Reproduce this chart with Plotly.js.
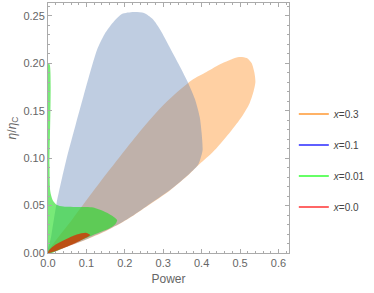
<!DOCTYPE html>
<html><head><meta charset="utf-8">
<script src="https://cdn.plot.ly/plotly-3.0.1.min.js"></script>
<style>html,body{margin:0;padding:0;background:#fff}#c{width:374px;height:293px}</style>
</head><body><div id="c"></div>
<script>
// legend labels
const labels = ['<i>x</i>=0.3', '<i>x</i>=0.1', '<i>x</i>=0.01', '<i>x</i>=0.0'];
// x = 0.3 region boundary (Power, eta/eta_C)
const orangeX = [0, 0.065, 0.13, 0.2425, 0.305, 0.375, 0.4125, 0.455, 0.4975, 0.5175, 0.53, 0.5375, 0.54, 0.535, 0.525, 0.505, 0.475, 0.4375, 0.4175, 0.3925, 0.3675, 0.3175, 0.255, 0.205, 0.155, 0.105, 0.055, 0];
const orangeY = [0, 0.0365, 0.0717, 0.1297, 0.158, 0.1825, 0.191, 0.2004, 0.2068, 0.2057, 0.2004, 0.19, 0.18, 0.17, 0.158, 0.144, 0.128, 0.110, 0.102, 0.093, 0.083, 0.066, 0.0485, 0.035, 0.024, 0.015, 0.0074, 0];
// x = 0.1 region boundary
const blueX = [0, 0.008, 0.0225, 0.0475, 0.0725, 0.0925, 0.11, 0.1275, 0.1475, 0.1725, 0.1925, 0.2225, 0.25, 0.2725, 0.2925, 0.315, 0.34, 0.3625, 0.3825, 0.395, 0.40, 0.4025, 0.3975, 0.39, 0.3675, 0.3175, 0.255, 0.205, 0.155, 0.105, 0.055, 0];
const blueY = [0, 0.017, 0.0527, 0.0981, 0.1361, 0.1656, 0.1909, 0.2141, 0.2310, 0.2447, 0.2521, 0.2542, 0.2532, 0.2468, 0.2352, 0.2184, 0.1994, 0.1814, 0.1624, 0.1435, 0.1266, 0.1087, 0.1002, 0.0925, 0.0834, 0.0664, 0.0489, 0.0354, 0.0244, 0.0154, 0.0077, 0];
// x = 0.01 region boundary
const greenX = [0, 0, 0.004, 0.004, 0.006, 0.012, 0.022, 0.04, 0.08, 0.1175, 0.145, 0.168, 0.18, 0.173, 0.16, 0.1175, 0.075, 0.035, 0];
const greenY = [0, 0.199, 0.199, 0.09, 0.065, 0.056, 0.051, 0.049, 0.0485, 0.048, 0.044, 0.039, 0.0345, 0.0295, 0.026, 0.019, 0.0116, 0.0045, 0];
// x = 0.0 region boundary
const redX = [0, 0.0025, 0.02, 0.0425, 0.075, 0.1, 0.11, 0.0925, 0.06, 0.025, 0];
const redY = [0, 0.003, 0.009, 0.0137, 0.0195, 0.0212, 0.019, 0.0148, 0.0084, 0.003, 0];

const fills = [
  {x: orangeX, y: orangeY, c: 'rgba(255,150,50,0.45)'},
  {x: blueX, y: blueY, c: 'rgba(94,129,181,0.4)'},
  {x: greenX, y: greenY, c: 'rgba(30,220,30,0.6)'},
  {x: redX, y: redY, c: 'rgba(220,40,0,0.75)'}
];
const legendColors = ['#ff9933', '#2a2aff', '#33ff33', '#ff3333'];

const traces = fills.map(f => ({
  type: 'scatter', mode: 'lines', x: f.x, y: f.y, fill: 'toself',
  fillcolor: f.c, line: {width: 0, color: f.c, shape: 'spline', smoothing: 0.7},
  showlegend: false, hoverinfo: 'skip'
}));
labels.forEach((lab, i) => traces.push({
  type: 'scatter', mode: 'lines', x: [null], y: [null], name: lab,
  legendgroup: 'g' + i, line: {color: legendColors[i], width: 1.5}
}));

const axisCommon = {
  showgrid: false, zeroline: false, showline: true, linecolor: '#aaa', linewidth: 1,
  mirror: 'allticks', ticks: 'inside', ticklen: 4, tickcolor: '#aaa',
  tickfont: {family: 'Liberation Sans, Arial', size: 11, color: '#666'}
};
const layout = {
  width: 374, height: 293,
  margin: {l: 48, r: 75, t: 3, b: 40},
  paper_bgcolor: '#fff', plot_bgcolor: '#fff',
  xaxis: Object.assign({}, axisCommon, {
    range: [0, 0.6275], tickvals: [0, 0.1, 0.2, 0.3, 0.4, 0.5, 0.6], tickformat: '.1f',
    minor: {dtick: 0.02, ticks: 'inside', ticklen: 2, tickcolor: '#aaa'},
    title: {text: 'Power', font: {family: 'Liberation Sans, Arial', size: 12, color: '#666'}, standoff: 6}
  }),
  yaxis: Object.assign({}, axisCommon, {
    range: [0, 0.2637], tickvals: [0, 0.05, 0.1, 0.15, 0.2, 0.25], tickformat: '.2f',
    minor: {dtick: 0.01, ticks: 'inside', ticklen: 2, tickcolor: '#aaa'},
    title: {text: '<i>η</i>/<i>η</i><sub>C</sub>', font: {family: 'Liberation Sans, Arial', size: 12, color: '#666'}, standoff: 4}
  }),
  legend: {
    x: 1.02, xanchor: 'left', y: 0.37, yanchor: 'middle',
    traceorder: 'grouped', tracegroupgap: 12, itemwidth: 30,
    font: {family: 'Liberation Sans, Arial', size: 10, color: '#444'},
    bgcolor: 'rgba(0,0,0,0)'
  }
};
Plotly.newPlot('c', traces, layout, {displayModeBar: false, staticPlot: true});
</script></body></html>
